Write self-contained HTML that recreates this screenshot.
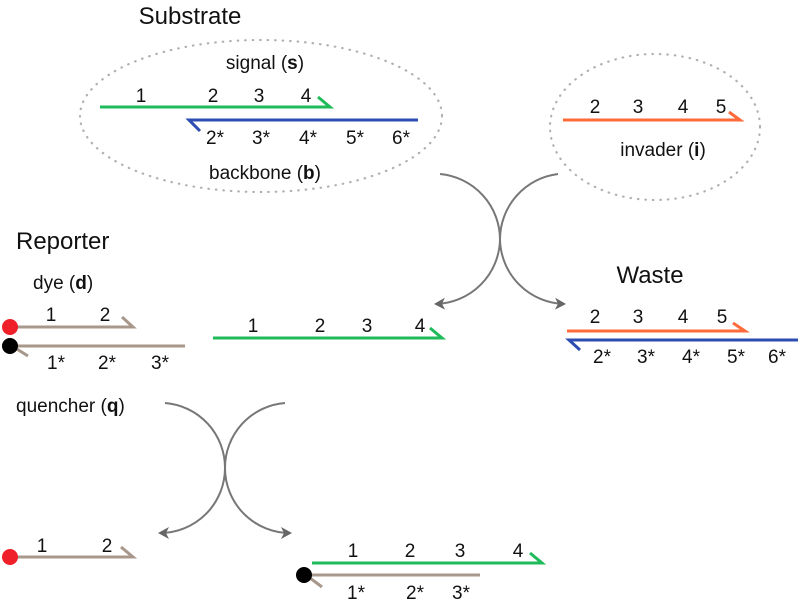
<!DOCTYPE html>
<html><head><meta charset="utf-8"><style>
html,body{margin:0;padding:0;background:#fff;}
svg{display:block;}
text{font-family:"Liberation Sans",Arial,sans-serif;fill:#111;}
</style></head><body>
<svg width="800" height="601" viewBox="0 0 800 601" xmlns="http://www.w3.org/2000/svg">
<defs>
<marker id="ah" markerWidth="12" markerHeight="12" refX="9" refY="6" orient="auto" markerUnits="userSpaceOnUse">
<path d="M0,0 L11,6 L0,12 L3,6 Z" fill="#666"/>
</marker>
</defs>
<ellipse cx="261" cy="116" rx="181" ry="76" fill="none" stroke="#b0b0b0" stroke-width="2.2" stroke-dasharray="0.5 7" stroke-linecap="round"/>
<ellipse cx="655" cy="127" rx="105" ry="73" fill="none" stroke="#b0b0b0" stroke-width="2.2" stroke-dasharray="0.5 7" stroke-linecap="round"/>

<text x="190" y="24" font-size="24" text-anchor="middle">Substrate</text>
<text x="265" y="69" font-size="19" text-anchor="middle">signal (<tspan font-weight="bold">s</tspan>)</text>
<g stroke="#1fba5a" stroke-width="3" fill="none"><path d="M100,107 H330 L318,97"/></g>
<g font-size="19" text-anchor="middle">
<text x="141" y="102">1</text><text x="213" y="102">2</text><text x="259" y="102">3</text><text x="306" y="102">4</text>
</g>
<g stroke="#2e4db3" stroke-width="3" fill="none"><path d="M418,120 H189 L200,131"/></g>
<g font-size="19" text-anchor="middle">
<text x="215" y="144">2*</text><text x="261" y="144">3*</text><text x="308" y="144">4*</text><text x="355" y="144">5*</text><text x="401" y="144">6*</text>
</g>
<text x="265" y="179" font-size="19" text-anchor="middle">backbone (<tspan font-weight="bold">b</tspan>)</text>

<g stroke="#ff6a3a" stroke-width="3" fill="none"><path d="M563,120 H740 L729,112"/></g>
<g font-size="19" text-anchor="middle">
<text x="595" y="113">2</text><text x="638" y="113">3</text><text x="683" y="113">4</text><text x="721" y="113">5</text>
</g>
<text x="663" y="156" font-size="19" text-anchor="middle">invader (<tspan font-weight="bold">i</tspan>)</text>

<g stroke="#777" stroke-width="2" fill="none">
<path d="M440,174 A66,66 0 0 1 500,240 A66,66 0 0 1 436,304" marker-end="url(#ah)"/>
<path d="M558,174 A66,66 0 0 0 500,240 A66,66 0 0 0 564,304" marker-end="url(#ah)"/>
<path d="M165,403 A65,65 0 0 1 225,468 A65,65 0 0 1 160,533" marker-end="url(#ah)"/>
<path d="M285,403 A65,65 0 0 0 225,468 A65,65 0 0 0 290,533" marker-end="url(#ah)"/>
</g>

<text x="16" y="249" font-size="24">Reporter</text>
<text x="33" y="289" font-size="19">dye (<tspan font-weight="bold">d</tspan>)</text>
<g stroke="#a8978b" stroke-width="3" fill="none">
<path d="M10,327 H133 L122,317"/>
<path d="M185,346 H12 L28,356"/>
</g>
<circle cx="10" cy="327" r="8" fill="#f0202a"/>
<circle cx="10" cy="346" r="8" fill="#000"/>
<g font-size="19" text-anchor="middle">
<text x="51" y="321">1</text><text x="105" y="321">2</text>
<text x="56" y="369">1*</text><text x="107" y="369">2*</text><text x="160" y="369">3*</text>
</g>
<text x="16" y="412" font-size="19">quencher (<tspan font-weight="bold">q</tspan>)</text>

<g stroke="#1fba5a" stroke-width="3" fill="none"><path d="M213,338 H442 L430,328"/></g>
<g font-size="19" text-anchor="middle">
<text x="253" y="332">1</text><text x="320" y="332">2</text><text x="367" y="332">3</text><text x="420" y="332">4</text>
</g>

<text x="650" y="283" font-size="24" text-anchor="middle">Waste</text>
<g stroke="#ff6a3a" stroke-width="3" fill="none"><path d="M567,331 H745 L733,323"/></g>
<g stroke="#2e4db3" stroke-width="3" fill="none"><path d="M798,340 H569 L580,350"/></g>
<g font-size="19" text-anchor="middle">
<text x="595" y="323">2</text><text x="638" y="323">3</text><text x="683" y="323">4</text><text x="722" y="323">5</text>
<text x="602" y="363">2*</text><text x="646" y="363">3*</text><text x="691" y="363">4*</text><text x="736" y="363">5*</text><text x="777" y="363">6*</text>
</g>

<g stroke="#a8978b" stroke-width="3" fill="none"><path d="M10,557 H133 L121,547"/></g>
<circle cx="10" cy="557" r="8" fill="#f0202a"/>
<g font-size="19" text-anchor="middle"><text x="42" y="552">1</text><text x="107" y="552">2</text></g>

<g stroke="#1fba5a" stroke-width="3" fill="none"><path d="M312,563 H542 L530,553"/></g>
<g stroke="#a8978b" stroke-width="3" fill="none"><path d="M480,575 H306 L322,587"/></g>
<circle cx="304" cy="575" r="8" fill="#000"/>
<g font-size="19" text-anchor="middle">
<text x="353" y="557">1</text><text x="410" y="557">2</text><text x="460" y="557">3</text><text x="518" y="557">4</text>
<text x="356" y="599">1*</text><text x="415" y="599">2*</text><text x="461" y="599">3*</text>
</g>
</svg>
</body></html>
